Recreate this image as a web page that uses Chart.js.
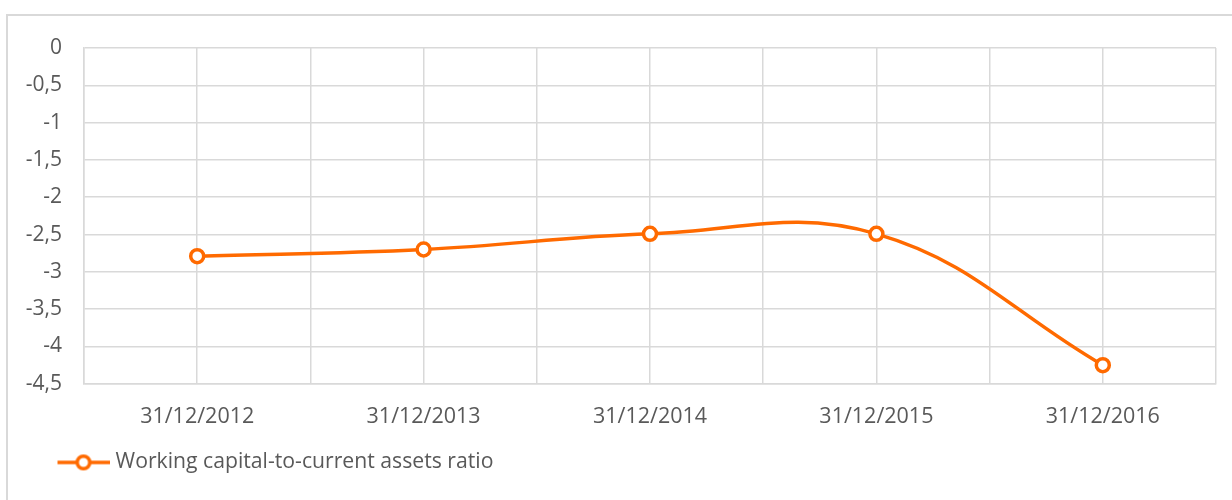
<!DOCTYPE html>
<html>
<head>
<meta charset="utf-8">
<script src="https://cdn.jsdelivr.net/npm/chart.js@4"></script>
<style>
  html, body { margin: 0; padding: 0; background: #ffffff; }
  #wrap { width: 1232px; height: 500px; }
</style>
</head>
<body>
<div id="wrap"><canvas id="c" width="1232" height="500"></canvas></div>
<script>
const categories = ['31/12/2012', '31/12/2013', '31/12/2014', '31/12/2015', '31/12/2016'];
const ratioValues = [-2.79, -2.70, -2.49, -2.49, -4.25];
const seriesLabel = 'Working capital-to-current assets ratio';
const yMin = -4.5, yMax = 0, yStep = 0.5;

const ORANGE = '#FF6A00';
const GRID = '#d9d9d9';
const TEXT = '#595959';
const FONT = "'Open Sans', sans-serif";

// legend marker: line with hollow circle
const mk = document.createElement('canvas');
mk.width = 96; mk.height = 20;
(function () {
  const g = mk.getContext('2d');
  g.strokeStyle = ORANGE; g.lineWidth = 3.5;
  g.beginPath(); g.moveTo(44, 10); g.lineTo(96, 10); g.stroke();
  g.beginPath(); g.arc(70, 10, 6.3, 0, Math.PI * 2);
  g.fillStyle = '#ffffff'; g.fill(); g.stroke();
})();

const frame = {
  id: 'frame',
  beforeDraw(chart) {
    const ctx = chart.ctx;
    ctx.save();
    ctx.strokeStyle = GRID; ctx.lineWidth = 2;
    ctx.beginPath();
    ctx.moveTo(7, 520); ctx.lineTo(7, 15); ctx.lineTo(1240, 15);
    ctx.stroke();
    ctx.restore();
  }
};

new Chart(document.getElementById('c'), {
  type: 'line',
  data: {
    datasets: [{
      label: seriesLabel,
      data: ratioValues.map((v, i) => ({ x: i, y: v })),
      borderColor: ORANGE,
      backgroundColor: '#ffffff',
      borderWidth: 3.5,
      tension: 0.4,
      pointRadius: 6.5,
      pointHoverRadius: 6.5,
      pointBorderWidth: 3.5,
      pointBackgroundColor: '#ffffff',
      pointBorderColor: ORANGE,
      fill: false
    }]
  },
  options: {
    responsive: false,
    animation: false,
    events: [],
    layout: { padding: { left: 8, right: 16, top: 48, bottom: 17 } },
    scales: {
      x: {
        type: 'linear',
        min: -0.5, max: categories.length - 0.5,
        afterFit(s) { s.height = 58; s.paddingLeft = 0; s.paddingRight = 0; },
        grid: { color: GRID, lineWidth: 1.5, drawTicks: false },
        border: { color: GRID, width: 1.5 },
        ticks: {
          stepSize: 0.5, autoSkip: false, maxRotation: 0, padding: 20,
          color: TEXT, font: { family: FONT, size: 21.5 },
          callback: v => Number.isInteger(v) ? categories[v] : ''
        }
      },
      y: {
        min: yMin, max: yMax,
        afterFit(s) { s.width = 76; },
        grid: { color: GRID, lineWidth: 1.5, drawTicks: false },
        border: { color: GRID, width: 1.5 },
        ticks: {
          stepSize: yStep, padding: 22,
          color: TEXT, font: { family: FONT, size: 21 },
          callback: v => (Math.abs(v) < 1e-9 ? '0' : String(Math.round(v * 10) / 10).replace('.', ','))
        }
      }
    },
    plugins: {
      legend: {
        position: 'bottom', align: 'start',
        labels: {
          usePointStyle: true, pointStyleWidth: 87, padding: 10,
          color: TEXT, font: { family: FONT, size: 21.2 },
          generateLabels(chart) {
            return [{ text: seriesLabel, pointStyle: mk, fontColor: TEXT, strokeStyle: ORANGE, fillStyle: '#fff', lineWidth: 0, datasetIndex: 0 }];
          }
        }
      },
      tooltip: { enabled: false }
    }
  },
  plugins: [frame]
});
</script>
</body>
</html>
